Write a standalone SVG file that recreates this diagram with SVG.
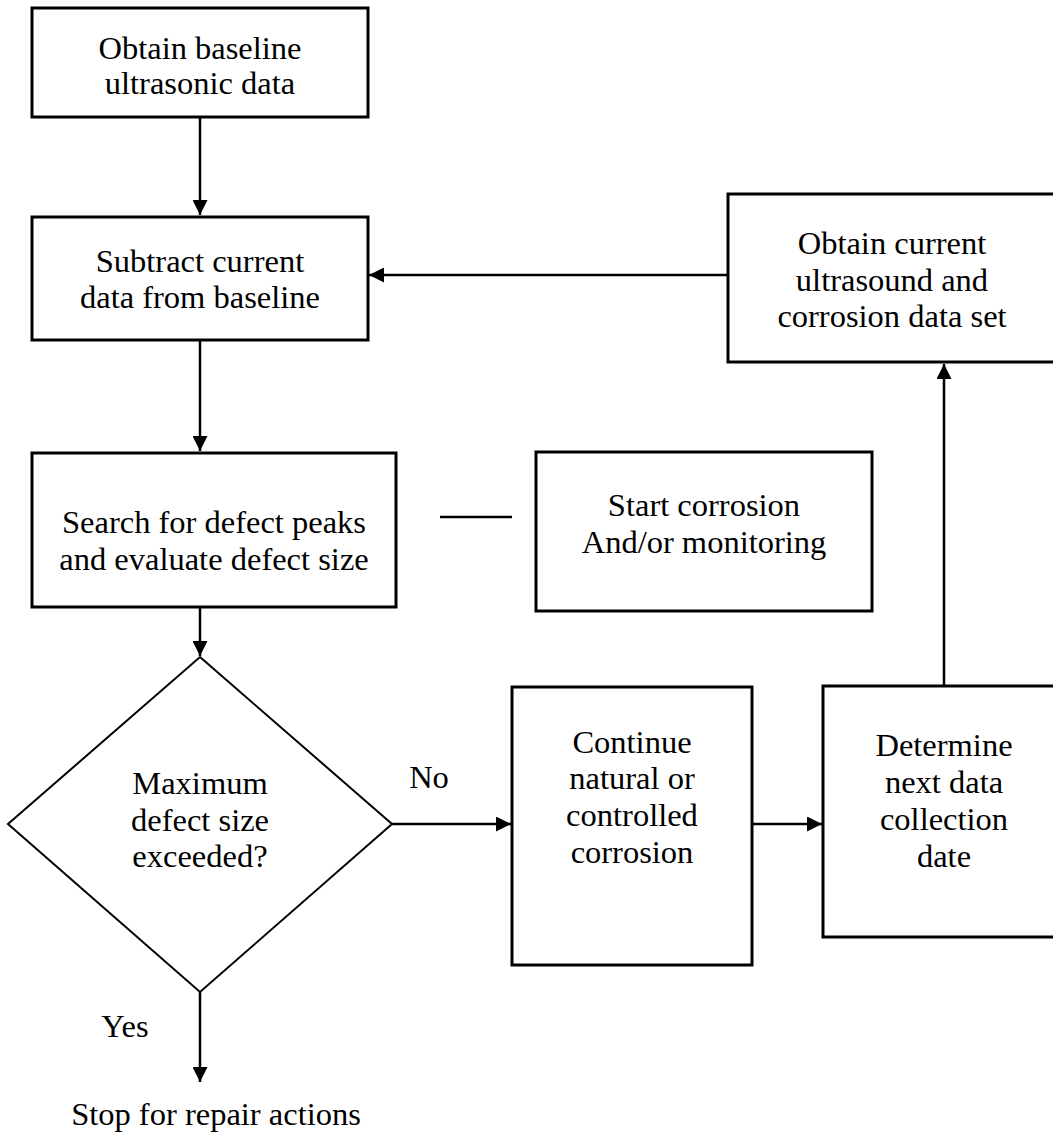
<svg xmlns="http://www.w3.org/2000/svg" width="1053" height="1132" viewBox="0 0 1053 1132">
<defs>
<style>
.box{fill:#fff;stroke:#000;stroke-width:3}
.ln{fill:none;stroke:#000;stroke-width:2.5}
.t{font-family:'Liberation Serif','Tinos','Times New Roman','DejaVu Serif',serif;font-size:32.5px;fill:#000;text-anchor:middle}
</style>
<marker id="ah" markerWidth="15" markerHeight="15" viewBox="0 0 10 10" refX="10" refY="5" orient="auto" markerUnits="userSpaceOnUse">
<path d="M0,0 L10,5 L0,10 z" fill="#000"/>
</marker>
</defs>
<rect width="1053" height="1132" fill="#fff"/>
<g id="connectors">
<line class="ln" x1="200" y1="117" x2="200" y2="215" marker-end="url(#ah)"/>
<line class="ln" x1="200" y1="340" x2="200" y2="451" marker-end="url(#ah)"/>
<line class="ln" x1="200" y1="607" x2="200" y2="656" marker-end="url(#ah)"/>
<line class="ln" x1="728" y1="275" x2="369" y2="275" marker-end="url(#ah)"/>
<line class="ln" x1="440" y1="517" x2="512" y2="517"/>
<line class="ln" x1="392" y1="824" x2="511" y2="824" marker-end="url(#ah)"/>
<line class="ln" x1="752" y1="824" x2="822" y2="824" marker-end="url(#ah)"/>
<line class="ln" x1="944" y1="686" x2="944" y2="364" marker-end="url(#ah)"/>
<line class="ln" x1="200" y1="992" x2="200" y2="1082" marker-end="url(#ah)"/>
</g>
<g id="n1" class="t"><rect class="box" x="32" y="8" width="336" height="109"/><text x="200" y="59">Obtain baseline</text><text x="200" y="94">ultrasonic data</text></g>
<g id="n2" class="t"><rect class="box" x="32" y="217" width="336" height="123"/><text x="200" y="272">Subtract current</text><text x="200" y="308">data from baseline</text></g>
<g id="n3" class="t"><rect class="box" x="32" y="453" width="364" height="154"/><text x="214" y="533">Search for defect peaks</text><text x="214" y="570">and evaluate defect size</text></g>
<g id="n4" class="t"><rect class="box" x="536" y="452" width="336" height="159"/><text x="704" y="516">Start corrosion</text><text x="704" y="553">And/or monitoring</text></g>
<g id="n5" class="t"><rect class="box" x="728" y="194" width="340" height="168"/><text x="892" y="254">Obtain current</text><text x="892" y="291">ultrasound and</text><text x="892" y="327">corrosion data set</text></g>
<g id="n6" class="t"><polygon class="box" points="200,657 392,824 200,992 8,824" style="stroke-width:2"/><text x="200" y="794">Maximum</text><text x="200" y="831">defect size</text><text x="200" y="867">exceeded?</text></g>
<g id="n7" class="t"><rect class="box" x="512" y="687" width="240" height="278"/><text x="632" y="753">Continue</text><text x="632" y="789">natural or</text><text x="632" y="826">controlled</text><text x="632" y="863">corrosion</text></g>
<g id="n8" class="t"><rect class="box" x="823" y="686" width="245" height="251"/><text x="944" y="756">Determine</text><text x="944" y="793">next data</text><text x="944" y="830">collection</text><text x="944" y="867">date</text></g>
<g id="labels" class="t"><text x="429" y="788">No</text><text x="125" y="1037">Yes</text><text x="216" y="1125">Stop for repair actions</text></g>
</svg>
